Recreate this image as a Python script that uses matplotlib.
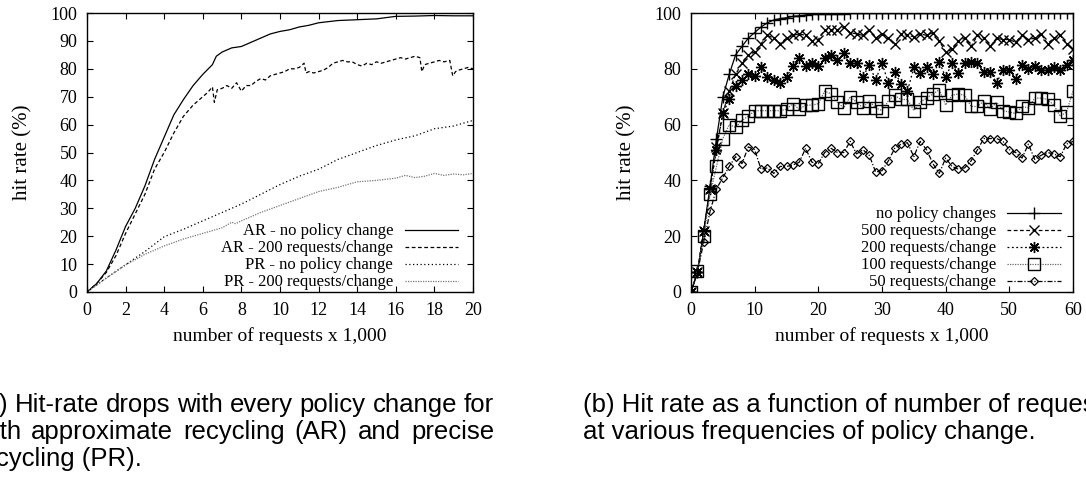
import numpy as np
import matplotlib
matplotlib.use('Agg')
import matplotlib.pyplot as plt

# %% data, left panel (a): hit rate vs requests x 1,000
ar_no_x = [0, 0.5, 1, 1.5, 2, 2.5, 3, 3.5, 4, 4.5, 5, 5.5, 6, 6.5, 6.7, 7, 7.5, 8, 8.5, 9, 9.5,
           10, 10.5, 11, 11.5, 12, 13, 14, 15, 16, 17, 18, 19, 20]
ar_no_y = [0, 3, 7.5, 15, 23.5, 30, 38, 47.5, 55.5, 63.5, 69, 74, 78, 81.5, 84.5, 86, 87.5, 88, 89.5, 91, 92.5,
           93.4, 94, 95, 95.6, 96.5, 97.3, 97.6, 97.9, 98.8, 98.9, 99.1, 99, 99]

ar_200_x = [0, 0.5, 1, 1.5, 2, 2.5, 3, 3.5, 4, 4.5, 5, 5.5, 6, 6.25, 6.5, 6.6, 6.75, 7, 7.25, 7.5,
            7.75, 8, 8.25, 8.5, 8.75, 9, 9.25, 9.5, 9.75, 10, 10.25, 10.5, 10.75, 11, 11.25, 11.35,
            11.5, 11.75, 12, 12.25, 12.5, 12.75, 13, 13.25, 13.5, 13.75, 14, 14.25, 14.5, 14.75, 15,
            15.25, 15.5, 15.75, 16, 16.25, 16.5, 16.75, 17, 17.25, 17.35, 17.5, 17.75, 18, 18.25, 18.5,
            18.8, 18.95, 19.1, 19.25, 19.5, 19.75, 20]
ar_200_y = [0, 3, 7, 13, 21, 28, 35, 44, 50, 57, 63, 67, 70, 71.5, 73.5, 68, 72.5, 73, 74, 73,
            75, 72, 74, 74, 75.5, 76.5, 76, 77.5, 78, 78.5, 79, 80, 80, 80.5, 82, 78.5,
            79, 78.5, 79, 79.5, 80.5, 82, 82.5, 83, 82.5, 82.5, 81.5, 81, 82, 81.5, 82.5,
            82, 82.5, 83, 83.5, 84, 83.5, 84, 84.5, 84, 79, 81.5, 82, 82.5, 83, 82.5,
            83, 77.5, 79, 79.5, 80, 80.5, 80]

pr_no_x = [0, 1, 2, 3, 4, 5, 6, 7, 8, 9, 10, 11, 12, 13, 14, 15, 16, 17, 18, 19, 20]
pr_no_y = [0, 5, 9.8, 14.5, 19.8, 22.5, 25.5, 28.5, 31.5, 35, 38.5, 41.5, 44, 47.5, 50, 52.5, 54.5,
           56, 58.5, 59.5, 61.5]

pr_200_x = [0, 1, 2, 3, 4, 5, 6, 7, 7.5, 7.7, 8, 9, 10, 11, 12, 13, 14, 15, 16, 16.5, 17, 17.5,
            18, 18.5, 19, 19.5, 20]
pr_200_y = [0, 5, 9.7, 13.5, 16.5, 19, 21, 23, 25, 24.5, 25.5, 28.5, 31, 33.5, 36, 37.5, 39.5, 40,
            40.8, 41.8, 41, 41.5, 42.5, 41.8, 42.3, 42, 42.5]

# %% data, right panel (b): one point per 1,000 requests
req_k = list(range(61))
hr_none = [0, 7, 22, 38, 55, 70, 78, 85, 88, 91, 93, 95, 96.5, 97.5, 98, 98.3, 98.8, 99, 99.3, 99.5,
           99.6, 99.7, 99.7, 99.8, 99.8, 99.9, 99.9, 99.9, 99.9, 100, 100, 100, 100, 100, 100, 100,
           100, 100, 100, 100, 100, 100, 100, 100, 100, 100, 100, 100, 100, 100, 100, 100, 100, 100,
           100, 100, 100, 100, 100, 100, 100]
hr_500 = [0, 7, 22, 37, 52, 64, 72, 78, 82, 85, 86, 89, 92, 91, 89, 91, 92, 92.5, 92, 90,
          90.5, 94, 94, 94, 95, 93, 92.5, 92, 94, 91, 92.5, 91, 89, 92.5, 92, 91.5, 92.5, 92, 93, 90,
          86, 87, 90, 91, 88, 92, 91, 88, 91, 90.5, 90.5, 89.5, 92, 90.5, 91, 92.5, 89, 91, 92, 89, 87]
hr_200 = [0, 7, 22, 37, 51, 64, 69, 74, 76, 78, 77.5, 80.5, 77, 76, 75, 77, 81, 84, 81, 82,
          81, 84, 85, 83, 85.5, 82, 82, 77, 81.5, 76, 82, 75, 79, 74.5, 72, 80.5, 78.5, 80.5, 78, 82.5,
          77, 82, 78.5, 82, 82.5, 82, 79, 79, 75, 79.5, 79.5, 76.5, 81.5, 80, 81, 79.5, 79.5, 80.5,
          79.5, 81.5, 83]
hr_100 = [0, 7.5, 20, 35, 45, 55, 60, 59, 61.5, 63, 65, 65, 65, 65, 65, 65.5, 67.5, 65.5, 67, 67,
          67.5, 72, 71, 68, 66, 70, 68, 66, 68.5, 66, 65, 68.5, 70.5, 69, 69, 65, 68, 69.5, 71, 72.5,
          67, 70.5, 71, 70.5, 66.5, 66.5, 68.5, 65.5, 68, 65, 64.5, 64, 66.5, 66, 69.5, 69.5, 69, 67,
          63, 64.5, 72]
hr_50 = [0, 7, 18, 29, 37, 41, 45, 48.5, 46, 52, 51, 44, 44.5, 42.5, 45, 45, 45.5, 46.5, 51.5, 46.5,
         46, 50, 51.5, 50, 50, 54, 49.5, 51, 49, 43, 43.5, 47, 51.5, 53, 53.5, 48.5, 54, 51, 46, 42.5,
         48, 45, 44, 44.5, 47, 51, 55, 55, 55, 54, 51, 50, 48, 53, 47.5, 49, 50, 49.5, 48.5, 53, 54]

caption_a = ['(a) Hit-rate drops with every policy change for',
             'both approximate recycling (AR) and precise',
             'recycling (PR).']
caption_b = ['(b) Hit rate as a function of number of requests',
             'at various frequencies of policy change.']

# %% plotting
plt.rcParams['font.family'] = ['Liberation Serif', 'DejaVu Serif']
plt.rcParams['axes.linewidth'] = 1.0

W, H = 1086, 482
fig = plt.figure(figsize=(W / 100, H / 100), dpi=100)
ax1 = fig.add_axes([0.0801, 0.3942, 0.3554, 0.5788])
ax2 = fig.add_axes([0.6363, 0.3942, 0.3517, 0.5788])

lw = 0.9
ax1.plot(ar_no_x, ar_no_y, color='black', lw=lw, label='AR - no policy change')
ax1.plot(ar_200_x, ar_200_y, color='black', lw=lw, dashes=(3, 2), label='AR - 200 requests/change')
ax1.plot(pr_no_x, pr_no_y, color='black', lw=lw, dashes=(1, 2), label='PR - no policy change')
ax1.plot(pr_200_x, pr_200_y, color='#777777', lw=lw, dashes=(1, 1), label='PR - 200 requests/change')

ax1.set_xlim(0, 20)
ax1.set_ylim(0, 100)
ax1.set_xticks(range(0, 21, 2))
ax1.set_yticks(range(0, 101, 10))

ax2.plot(req_k, hr_none, color='black', lw=lw, marker='+', ms=8, mew=1.0, label='no policy changes')
ax2.plot(req_k, hr_500, color='black', lw=lw, dashes=(3, 2), marker='x', ms=7, mew=1.0,
         label='500 requests/change')
ax2.plot(req_k, hr_200, color='black', lw=lw, dashes=(1.5, 2), marker=(8, 2, 0), ms=8, mew=1.0,
         label='200 requests/change')
ax2.plot(req_k, hr_100, color='#666666', lw=lw, dashes=(1, 1), marker='s', ms=8, mew=1.0,
         mfc='none', mec='black', label='100 requests/change')
ax2.plot(req_k, hr_50, color='black', lw=lw, dashes=(4, 1.5, 1, 1.5), marker='D', ms=4.5, mew=0.9,
         mfc='none', label='50 requests/change')

ax2.set_xlim(0, 60)
ax2.set_ylim(0, 100)
ax2.set_xticks(range(0, 61, 10))
ax2.set_yticks(range(0, 101, 20))

for ax in (ax1, ax2):
    ax.tick_params(direction='in', top=True, right=True, length=4, width=0.8, labelsize=13, pad=7)
    ax.set_xlabel('number of requests x 1,000', fontsize=14, labelpad=6)
    ax.set_ylabel('hit rate (%)', fontsize=15, labelpad=13)
    for lab in ax.get_xticklabels() + ax.get_yticklabels():
        lab.set_clip_on(False)

leg_kw = dict(loc='lower right', frameon=False, markerfirst=False, handlelength=3.2,
              handletextpad=0.7, labelspacing=0.06, fontsize=12, borderpad=0.0)
ax1.legend(bbox_to_anchor=(0.983, -0.024), **leg_kw)
ax2.legend(bbox_to_anchor=(0.99, -0.024), **leg_kw)

# captions (the figure edges clip them, as in the original page crop)
cap_font = ['Liberation Sans', 'DejaVu Sans']
cap_size = 18.5
renderer = fig.canvas.get_renderer()


def justify(line, x0, x1, y):
    words = line.split()
    items = [fig.text(0, y, w, family=cap_font, fontsize=cap_size, va='center', ha='left')
             for w in words]
    widths = [t.get_window_extent(renderer).width for t in items]
    gap = (x1 - x0 - sum(widths)) / (len(words) - 1)
    x = x0
    for t, w in zip(items, widths):
        t.set_x(x / W)
        x += w + gap


justify(caption_a[0], -24, 494, 1 - 405 / H)
justify(caption_a[1], -29, 494, 1 - 432 / H)
fig.text(-27 / W, 1 - 459 / H, caption_a[2], family=cap_font, fontsize=cap_size, va='center', ha='left')
fig.text(583 / W, 1 - 405 / H, caption_b[0], family=cap_font, fontsize=cap_size, va='center', ha='left')
fig.text(583 / W, 1 - 432 / H, caption_b[1], family=cap_font, fontsize=cap_size, va='center', ha='left')

fig.savefig('out.png', dpi=100)
